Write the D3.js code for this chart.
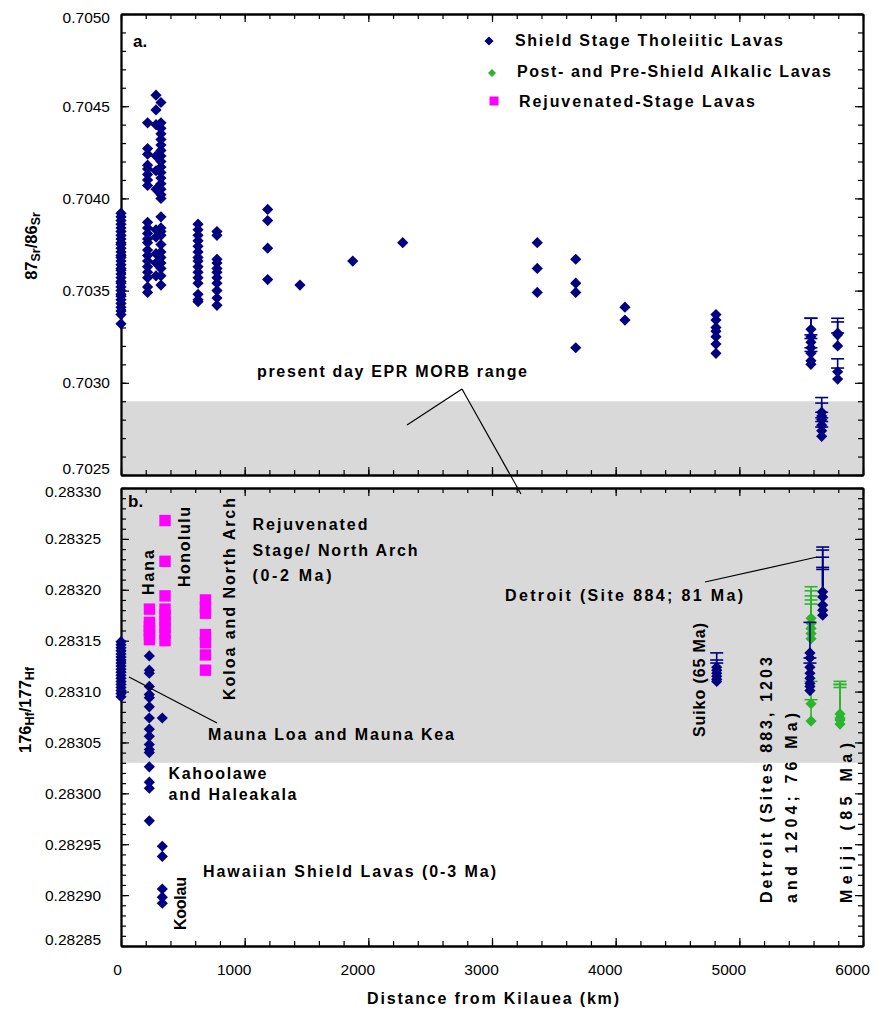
<!DOCTYPE html>
<html><head><meta charset="utf-8">
<script src="https://cdn.jsdelivr.net/npm/d3@7"></script>
<style>
body{margin:0;background:#fff}
svg text{font-family:"Liberation Sans",Arial,sans-serif}
</style></head><body>
<svg id="c" width="878" height="1013"></svg>
<script>
// ---------------- DATA ----------------
const xTicks = [0,1000,2000,3000,4000,5000,6000];
const srTicks = [0.7025,0.7030,0.7035,0.7040,0.7045,0.7050];
const hfTicks = [0.28285,0.28290,0.28295,0.28300,0.28305,0.28310,0.28315,0.28320,0.28325,0.28330];
const srMorb = [0.7025,0.7029];
const hfMorb = [0.28303,0.28330];

// 87Sr/86Sr shield-stage tholeiites, columns by distance (km)
const srShieldDist = [0,215,283,323,623,776,1186,1447,1874,2278,3366,3677,4075,4811];
const srShieldVals = [
  [0.70392,0.70390,0.70388,0.70386,0.70384,0.70382,0.70380,0.70378,0.70376,0.70375,0.70373,0.70371,0.70369,0.70368,0.70366,0.70364,0.70362,0.70361,0.70359,0.70357,0.70355,0.70354,0.70352,0.70350,0.70348,0.70347,0.70345,0.70343,0.70341,0.70339,0.70337,0.70332],
  [0.70441,0.70427,0.70424,0.70418,0.70416,0.70413,0.70410,0.70407,0.70387,0.70384,0.70381,0.70378,0.70376,0.70372,0.70369,0.70366,0.70363,0.70360,0.70357,0.70352,0.70349],
  [0.70456,0.70448,0.70440,0.70423,0.70415,0.70405,0.70383,0.70379,0.70370,0.70365,0.70358],
  [0.70452,0.70441,0.70438,0.70435,0.70432,0.70429,0.70426,0.70423,0.70420,0.70417,0.70414,0.70411,0.70408,0.70405,0.70402,0.70400,0.70390,0.70384,0.70382,0.70380,0.70375,0.70371,0.70368,0.70365,0.70362,0.70358,0.70353],
  [0.70386,0.70383,0.70380,0.70377,0.70374,0.70371,0.70368,0.70366,0.70363,0.70360,0.70357,0.70354,0.70348,0.70345,0.70344],
  [0.70382,0.70380,0.70367,0.70365,0.70362,0.70360,0.70357,0.70354,0.70350,0.70346,0.70342],
  [0.70394,0.70388,0.70373,0.70356],
  [0.70353],
  [0.70366],
  [0.70376],
  [0.70376,0.70362,0.70349],
  [0.70367,0.70354,0.70349,0.70319],
  [0.70341,0.70334],
  [0.70337,0.70334,0.70330,0.70328,0.70325,0.70321,0.70316]
];
// Emperor seamount Sr with (plus) error bars: [value, plusError]
const srErrDist = [5579,5666,5795];
const srErrVals = [
  [[0.70329,0.00006],[0.70325,0.00010],[0.70322,0.00004],[0.70319,0.00005],[0.70316,0.00003],[0.70312,0.00005],[0.70310,0]],
  [[0.70284,0.00008],[0.70282,0.00007],[0.70280,0.00004],[0.70277,0.00004],[0.70274,0.00005],[0.70271,0.00005]],
  [[0.70327,0.00008],[0.70326,0.00007],[0.70320,0.00007],[0.70306,0.00007],[0.70302,0.00006]]
];

// 176Hf/177Hf shield-stage tholeiites (no error bars)
const hfShieldDist = [0,229,334];
const hfShieldVals = [
  [0.283149,0.283146,0.283143,0.283140,0.283137,0.283134,0.283131,0.283128,0.283125,0.283122,0.283119,0.283116,0.283113,0.283110,0.283107,0.283104,0.283101,0.283098,0.283095],
  [0.283135,0.283121,0.283118,0.283105,0.283097,0.283094,0.283085,0.283074,0.283063,0.283056,0.283048,0.283043,0.283040,0.283026,0.283011,0.283005,0.282973],
  [0.283074,0.282948,0.282938,0.282906,0.282898,0.282892]
];
// Shield-stage Hf with (plus) error bars: Suiko, Detroit 883/1203/1204, Detroit 884
const hfShieldErrDist = [4817,5571,5674];
const hfShieldErrVals = [
  [[0.283124,0.000014],[0.283121,0.000010],[0.283118,0.000010],[0.283115,0],[0.283112,0],[0.283110,0]],
  [[0.283138,0.000030],[0.283133,0],[0.283124,0.000009],[0.283118,0.000010],[0.283113,0],[0.283108,0],[0.283105,0],[0.283101,0]],
  [[0.283198,0.000044],[0.283193,0.000046],[0.283185,0.000047],[0.283180,0.000042],[0.283175,0.000045]]
];
// Post- and pre-shield alkalic lavas: Detroit, Meiji
const hfAlkDist = [5580,5814];
const hfAlkVals = [
  [[0.283172,0.000031],[0.283167,0.000032],[0.283162,0.000032],[0.283157,0.000033],[0.283152,0.000034],[0.283088,0.000022],[0.283071,0.000021]],
  [[0.283078,0.000032],[0.283074,0.000033],[0.283072,0.000035],[0.283068,0.000036]]
];
// Rejuvenated-stage lavas: Hana, Honolulu, Koloa/North Arch
const hfRejDist = [230,356,683];
const hfRejVals = [
  [0.283181,0.283168,0.283164,0.283160,0.283156,0.283151],
  [0.283268,0.283228,0.283194,0.283181,0.283175,0.283169,0.283163,0.283157,0.283150],
  [0.283190,0.283183,0.283177,0.283156,0.283148,0.283136,0.283121]
];

const legendLabels = ["Shield Stage Tholeiitic Lavas","Post- and Pre-Shield Alkalic Lavas","Rejuvenated-Stage Lavas"];

// ---------------- CHART ----------------
const NAVY = "#000080", GREEN = "#2bb52b", MAG = "#ff00ff", GREY = "#d9d9d9";
const svg = d3.select("#c");
const x = d3.scaleLinear().domain([0,6000]).range([121,863]);
const ySr = d3.scaleLinear().domain([0.7025,0.7050]).range([475,14]);
const yHf = d3.scaleLinear().domain([0.28285,0.28330]).range([946,488]);
const diamond = "M0,-5.6L5.6,0L0,5.6L-5.6,0Z";

// bands
svg.append("rect").attr("x",x(0)).attr("width",x(6000)-x(0))
  .attr("y",ySr(srMorb[1])).attr("height",ySr(srMorb[0])-ySr(srMorb[1])).attr("fill",GREY);
svg.append("rect").attr("x",x(0)).attr("width",x(6000)-x(0))
  .attr("y",yHf(hfMorb[1])).attr("height",yHf(hfMorb[0])-yHf(hfMorb[1])).attr("fill",GREY);

function minorsOf(lo, hi, step){ return d3.range(Math.round((hi-lo)/step)+1).map(i=>lo+i*step); }
const xMinor = minorsOf(0,6000,200);

function styleAxis(g){
  g.attr("font-size",null).attr("font-family",null);
  g.select(".domain").attr("stroke","#000").attr("stroke-width",1.8);
  g.selectAll(".tick line").attr("stroke","#000").attr("stroke-width",1.2);
  g.selectAll(".tick text").attr("fill","#000").style("font-size","15.5px");
}
function drawFrame(y, majors, minorStep, fmt, pad, showX){
  const [yb, yt] = y.range();
  const [d0, d1] = y.domain();
  const yMinor = minorsOf(d0, d1, minorStep);
  // left
  svg.append("g").attr("transform",`translate(${x(0)},0)`)
    .call(d3.axisLeft(y).tickValues(yMinor).tickSize(-5).tickSizeOuter(0).tickFormat("")).call(styleAxis);
  const gl = svg.append("g").attr("transform",`translate(${x(0)},0)`)
    .call(d3.axisLeft(y).tickValues(majors).tickSize(-8).tickSizeOuter(0).tickPadding(pad).tickFormat(fmt)).call(styleAxis);
  // nudge the end labels inward like the original
  gl.selectAll(".tick text").attr("dy", d => d===d0 ? "-0.1em" : d===d1 ? "0.55em" : "0.32em");
  // right
  svg.append("g").attr("transform",`translate(${x(6000)},0)`)
    .call(d3.axisRight(y).tickValues(yMinor).tickSize(-5).tickSizeOuter(0).tickFormat("")).call(styleAxis);
  svg.append("g").attr("transform",`translate(${x(6000)},0)`)
    .call(d3.axisRight(y).tickValues(majors).tickSize(-8).tickSizeOuter(0).tickFormat("")).call(styleAxis);
  // top
  svg.append("g").attr("transform",`translate(0,${yt})`)
    .call(d3.axisTop(x).tickValues(xMinor).tickSize(-5).tickSizeOuter(0).tickFormat("")).call(styleAxis);
  svg.append("g").attr("transform",`translate(0,${yt})`)
    .call(d3.axisTop(x).tickValues(xTicks).tickSize(-8).tickSizeOuter(0).tickFormat("")).call(styleAxis);
  // bottom
  svg.append("g").attr("transform",`translate(0,${yb})`)
    .call(d3.axisBottom(x).tickValues(xMinor).tickSize(-5).tickSizeOuter(0).tickFormat("")).call(styleAxis);
  const gb = svg.append("g").attr("transform",`translate(0,${yb})`)
    .call(d3.axisBottom(x).tickValues(xTicks).tickSize(-8).tickSizeOuter(0).tickPadding(18)
      .tickFormat(showX ? d3.format("d") : "")).call(styleAxis);
  gb.selectAll(".tick text").attr("dx", d => d===0 ? -4 : -11);
}
drawFrame(ySr, srTicks, 0.0001, d3.format(".4f"), 11, false);
drawFrame(yHf, hfTicks, 0.00001, d3.format(".5f"), 20, true);

// marks
const gData = svg.append("g");
function errBars(y, d, v, e, color){
  if(!e) return;
  gData.append("line").attr("x1",x(d)).attr("x2",x(d)).attr("y1",y(v)).attr("y2",y(v+e))
    .attr("stroke",color).attr("stroke-width",1.6);
  gData.append("line").attr("x1",x(d)-6.5).attr("x2",x(d)+6.5).attr("y1",y(v+e)).attr("y2",y(v+e))
    .attr("stroke",color).attr("stroke-width",1.6);
}
function diamonds(y, d, vals, color){
  gData.selectAll(null).data(vals).enter().append("path")
    .attr("d",diamond).attr("fill",color)
    .attr("transform",v=>`translate(${x(d)},${y(v)})`);
}
// top panel
srShieldDist.forEach((d,i)=>diamonds(ySr, d, srShieldVals[i], NAVY));
srErrDist.forEach((d,i)=>{ srErrVals[i].forEach(p=>errBars(ySr,d,p[0],p[1],NAVY)); });
srErrDist.forEach((d,i)=>diamonds(ySr, d, srErrVals[i].map(p=>p[0]), NAVY));
// bottom panel
hfAlkDist.forEach((d,i)=>{ hfAlkVals[i].forEach(p=>errBars(yHf,d,p[0],p[1],GREEN)); });
hfAlkDist.forEach((d,i)=>diamonds(yHf, d, hfAlkVals[i].map(p=>p[0]), GREEN));
hfShieldErrDist.forEach((d,i)=>{ hfShieldErrVals[i].forEach(p=>errBars(yHf,d,p[0],p[1],NAVY)); });
hfShieldErrDist.forEach((d,i)=>diamonds(yHf, d, hfShieldErrVals[i].map(p=>p[0]), NAVY));
hfShieldDist.forEach((d,i)=>diamonds(yHf, d, hfShieldVals[i], NAVY));
hfRejDist.forEach((d,i)=>{
  gData.selectAll(null).data(hfRejVals[i]).enter().append("rect")
    .attr("x",x(d)-5.7).attr("y",v=>yHf(v)-5.7).attr("width",11.4).attr("height",11.4).attr("fill",MAG);
});

// text helpers
const gT = svg.append("g");
function label(txt, px, py, len, opt={}){
  const t = gT.append("text").text(txt)
    .attr("font-weight", opt.normal ? "normal" : "bold")
    .style("font-size", (opt.size||16)+"px").attr("fill","#000");
  if(len){ t.attr("textLength",len).attr("lengthAdjust","spacing"); }
  if(opt.rot){ t.attr("transform",`translate(${px},${py}) rotate(-90)`); }
  else { t.attr("x",px).attr("y",py); }
  return t;
}
function seg(x1,y1,x2,y2){
  gT.append("line").attr("x1",x1).attr("y1",y1).attr("x2",x2).attr("y2",y2)
    .attr("stroke","#000").attr("stroke-width",1.2);
}

// legend
gT.append("path").attr("d","M0,-4.6L4.6,0L0,4.6L-4.6,0Z").attr("fill",NAVY).attr("transform","translate(489,41)");
gT.append("path").attr("d","M0,-4L4,0L0,4L-4,0Z").attr("fill",GREEN).attr("transform","translate(492,73)");
gT.append("rect").attr("x",489.5).attr("y",96.5).attr("width",9).attr("height",9).attr("fill",MAG);
label(legendLabels[0], 515, 46, 268);
label(legendLabels[1], 517, 77, 314);
label(legendLabels[2], 519, 107, 236);

// panel letters
label("a.", 133, 47, null, {size:17});
label("b.", 128, 507, null, {size:17});

// top annotations
label("present day EPR MORB range", 257, 377, 270);
seg(462,389,407,425);
seg(462,389,521,494);

// bottom annotations
label("Rejuvenated", 252.5, 529.5, 115);
label("Stage/ North Arch", 252.5, 555.5, 165);
label("(0-2 Ma)", 252.5, 581, 79);
label("Hana", 153.5, 595, 45, {rot:true});
label("Honolulu", 189.5, 587, 80, {rot:true});
label("Koloa and North Arch", 235, 700, 202, {rot:true});
label("Mauna Loa and Mauna Kea", 208, 740, 246);
seg(129,677,217,723);
label("Kahoolawe", 168.5, 778.5, 98);
label("and Haleakala", 168.5, 800, 128);
label("Hawaiian Shield Lavas (0-3 Ma)", 203, 877, 293);
label("Koolau", 185.5, 930, 53, {rot:true});
label("Detroit (Site 884; 81 Ma)", 505, 600.5, 238);
seg(705,582,817,557);
label("Suiko (65 Ma)", 705, 737, 114, {rot:true});
label("Detroit (Sites 883, 1203", 772, 903, 246, {rot:true});
label("and 1204; 76 Ma)", 797, 903, 190, {rot:true});
label("Meiji (85 Ma)", 852, 903, 160, {rot:true});

// axis titles
const tTop = gT.append("text").attr("transform","translate(37,246) rotate(-90)")
  .attr("text-anchor","middle").attr("font-weight","bold").style("font-size","16.5px").attr("fill","#000");
tTop.append("tspan").text("87");
tTop.append("tspan").text("Sr").style("font-size","12.5px").attr("dy",3);
tTop.append("tspan").text("/86").attr("dy",-3);
tTop.append("tspan").text("Sr").style("font-size","12.5px").attr("dy",3);
const tBot = gT.append("text").attr("transform","translate(31,710) rotate(-90)")
  .attr("text-anchor","middle").attr("font-weight","bold").style("font-size","16.5px").attr("fill","#000");
tBot.append("tspan").text("176");
tBot.append("tspan").text("Hf").style("font-size","12.5px").attr("dy",3);
tBot.append("tspan").text("/177").attr("dy",-3);
tBot.append("tspan").text("Hf").style("font-size","12.5px").attr("dy",3);

label("Distance from Kilauea (km)", 367, 1004, 252);
</script>
</body></html>
